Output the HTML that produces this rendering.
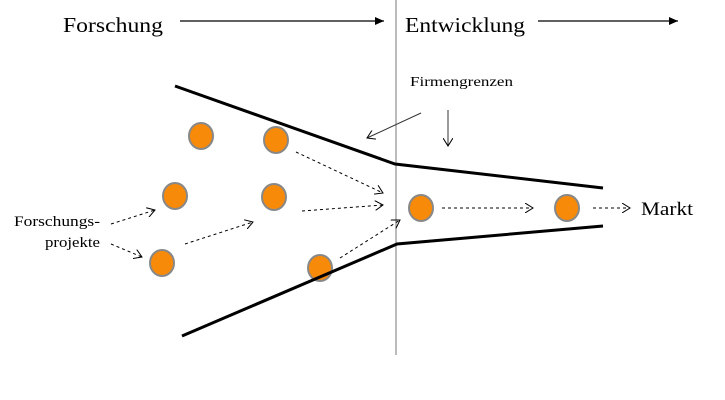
<!DOCTYPE html>
<html><head><style>body{margin:0;background:#fff}svg{display:block}</style></head><body>
<svg width="725" height="400" viewBox="0 0 725 400" font-family="Liberation Serif, serif">
<defs>
<marker id="a" markerWidth="10" markerHeight="10" refX="8" refY="5" orient="auto" markerUnits="userSpaceOnUse"><path d="M0,0 L8,5 L0,10" fill="none" stroke="#000" stroke-width="1"/></marker>
<marker id="f" markerWidth="10" markerHeight="8" refX="9" refY="4" orient="auto" markerUnits="userSpaceOnUse"><path d="M0,0 L9,4 L0,8Z" fill="#000"/></marker>
</defs>
<line x1="396" y1="0" x2="396" y2="355" stroke="#777" stroke-width="1"/>
<text x="63" y="32" font-size="21" textLength="100" lengthAdjust="spacingAndGlyphs">Forschung</text>
<text x="405" y="32" font-size="21" textLength="120" lengthAdjust="spacingAndGlyphs">Entwicklung</text>
<line x1="180" y1="21" x2="384" y2="21" stroke="#000" stroke-width="1.3" marker-end="url(#f)"/>
<line x1="538" y1="21" x2="678" y2="21" stroke="#000" stroke-width="1.3" marker-end="url(#f)"/>
<text x="410" y="86" font-size="14" textLength="103" lengthAdjust="spacingAndGlyphs">Firmengrenzen</text>
<line x1="421" y1="113" x2="367" y2="138" stroke="#333" stroke-width="1" marker-end="url(#a)"/>
<line x1="448" y1="110" x2="448" y2="146" stroke="#333" stroke-width="1" marker-end="url(#a)"/>
<polyline points="175,86 395,164 603,188" fill="none" stroke="#000" stroke-width="3"/>
<g fill="#f88a0a" stroke="#888" stroke-width="2">
<ellipse cx="201" cy="136" rx="12" ry="13"/><ellipse cx="276" cy="140" rx="12" ry="13"/>
<ellipse cx="175" cy="196" rx="12" ry="13"/><ellipse cx="274" cy="197" rx="12" ry="13"/>
<ellipse cx="162" cy="263" rx="12" ry="13"/><ellipse cx="320" cy="268" rx="12" ry="13"/>
<ellipse cx="421" cy="208" rx="12" ry="13"/><ellipse cx="567" cy="208" rx="12" ry="13"/>
</g>
<polyline points="182,336 397,244 603,226" fill="none" stroke="#000" stroke-width="3"/>
<g stroke="#000" stroke-width="1" stroke-dasharray="3,3" fill="none" marker-end="url(#a)">
<line x1="296" y1="152" x2="383" y2="193"/>
<line x1="302" y1="211" x2="383" y2="205"/>
<line x1="340" y1="258" x2="400" y2="220"/>
<line x1="111" y1="224" x2="155" y2="210"/>
<line x1="111" y1="244" x2="142" y2="257"/>
<line x1="185" y1="244" x2="253" y2="222"/>
<line x1="442" y1="208" x2="533" y2="208"/>
<line x1="593" y1="208" x2="630" y2="208"/>
</g>
<text x="641" y="215" font-size="19" textLength="52" lengthAdjust="spacingAndGlyphs">Markt</text>
<text x="14" y="226" font-size="15" textLength="86" lengthAdjust="spacingAndGlyphs">Forschungs-</text>
<text x="45" y="247" font-size="15" textLength="55" lengthAdjust="spacingAndGlyphs">projekte</text>
</svg>
</body></html>
